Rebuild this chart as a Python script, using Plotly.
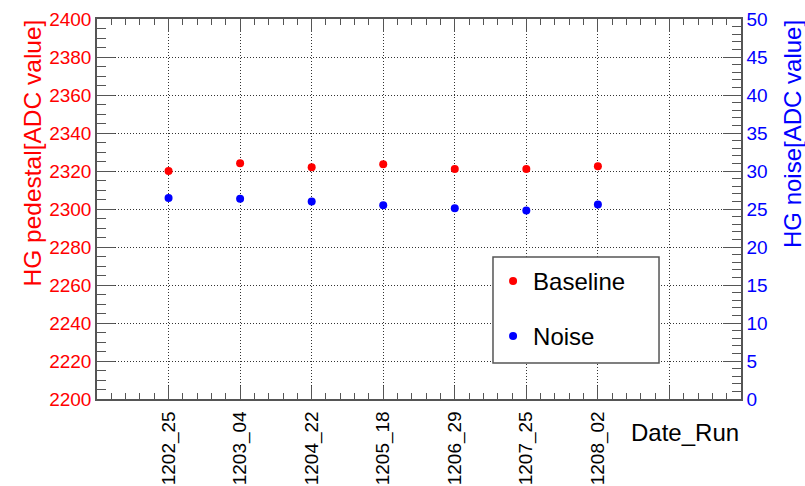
import plotly.graph_objects as go

runs = ["1202_25", "1203_04", "1204_22", "1205_18", "1206_29", "1207_25", "1208_02"]
baseline = [2320.0, 2324.1, 2322.0, 2323.5, 2321.1, 2321.1, 2322.5]
noise = [26.45, 26.36, 26.0, 25.5, 25.1, 24.8, 25.6]

FONT = "Liberation Sans, Arial, sans-serif"
xidx = list(range(len(runs)))

fig = go.Figure()
fig.add_trace(go.Scatter(x=xidx, y=baseline, mode="markers", name="Baseline",
                         legendgroup="b",
                         marker=dict(color="#ff0000", size=8), yaxis="y"))
fig.add_trace(go.Scatter(x=xidx, y=noise, mode="markers", name="Noise",
                         legendgroup="n",
                         marker=dict(color="#0000ff", size=8), yaxis="y2"))

axcol = "#555555"
fig.update_layout(
    width=805, height=486,
    margin=dict(l=97, r=64, t=19, b=87, autoexpand=False),
    paper_bgcolor="white", plot_bgcolor="white",
    font=dict(family=FONT, size=19, color="black"),
    showlegend=True,
    legend=dict(x=0.615, y=0.369, xanchor="left", yanchor="top",
                borderwidth=0, bgcolor="rgba(0,0,0,0)",
                font=dict(size=24, family=FONT), tracegroupgap=21,
                itemsizing="trace"),
    xaxis=dict(range=[-1, 8], tickvals=list(range(len(runs) + 1)),
               ticktext=runs + [""], tickangle=-90, automargin=False,
               ticklabelstandoff=3,
               ticks="inside", ticklen=13, tickcolor=axcol, tickwidth=1,
               minor=dict(dtick=0.2, tick0=0, ticks="inside", ticklen=6,
                          tickcolor=axcol, showgrid=False),
               showline=True, linecolor=axcol, linewidth=1.5, mirror="ticks",
               showgrid=True, gridcolor="#333333", griddash="1px,2px", gridwidth=1,
               zeroline=False, tickfont=dict(size=19, color="black")),
    yaxis=dict(range=[2200, 2400], dtick=20, tick0=2200, automargin=False,
               ticks="inside", ticklen=18, tickcolor=axcol,
               minor=dict(dtick=5, ticks="inside", ticklen=9, tickcolor=axcol,
                          showgrid=False),
               showline=True, linecolor=axcol, linewidth=1.5, mirror=False,
               showgrid=True, gridcolor="#333333", griddash="1px,2px", gridwidth=1,
               zeroline=False, tickfont=dict(size=19, color="#ff0000")),
    yaxis2=dict(range=[0, 50], dtick=5, tick0=0, overlaying="y", side="right",
                automargin=False,
                ticks="inside", ticklen=18, tickcolor=axcol,
                minor=dict(dtick=1, ticks="inside", ticklen=9, tickcolor=axcol,
                           showgrid=False),
                showline=True, linecolor=axcol, linewidth=1.5,
                showgrid=False, zeroline=False,
                tickfont=dict(size=19, color="#0000ff")),
)

# legend frame
fig.add_shape(type="rect", xref="paper", yref="paper",
              x0=0.6149, x1=0.8727, y0=0.0947, y1=0.3737,
              line=dict(color="#555555", width=1.5), fillcolor="white",
              layer="above")

fig.add_annotation(text="HG pedestal[ADC value]", xref="paper", yref="paper",
                   x=0, y=1, xanchor="center", yanchor="top", xshift=-65, yshift=1,
                   textangle=-90, showarrow=False,
                   font=dict(size=24.5, color="#ff0000", family=FONT))
fig.add_annotation(text="HG noise[ADC value]", xref="paper", yref="paper",
                   x=1, y=1, xanchor="center", yanchor="top", xshift=51, yshift=1,
                   textangle=-90, showarrow=False,
                   font=dict(size=24, color="#0000ff", family=FONT))
fig.add_annotation(text="Date_Run", xref="paper", yref="paper",
                   x=1, y=0, xanchor="right", yanchor="top", yshift=-18,
                   showarrow=False,
                   font=dict(size=24, color="black", family=FONT))

fig.write_html("out.html")
